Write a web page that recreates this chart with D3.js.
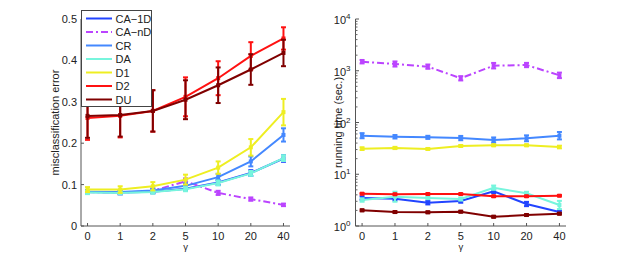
<!DOCTYPE html>
<html><head><meta charset="utf-8">
<script src="https://cdn.jsdelivr.net/npm/d3@7"></script>
<style>
body{margin:0;background:#fff;}
text{font-family:"Liberation Sans",Arial,Helvetica,sans-serif;fill:#222;}
</style></head>
<body>
<svg id="c" width="623" height="255"></svg>
<script>
const gammas = ["0","1","2","5","10","20","40"];
const names = ["CA\u22121D","CA\u2212nD","CR","DA","D1","D2","DU"];
const colors = ["#2244ff","#bb44ff","#4488ff","#77f5dd","#eeee22","#ff1111","#800000"];
const dashed = [false,true,false,false,false,false,false];

// misclassification error means
const errCA1D = [0.082,0.081,0.083,0.090,0.105,0.128,0.163];
const errCAnD = [0.082,0.080,0.085,0.108,0.080,0.065,0.051];
const errCR   = [0.083,0.082,0.086,0.097,0.118,0.156,0.220];
const errDA   = [0.081,0.080,0.082,0.089,0.104,0.127,0.164];
const errD1   = [0.088,0.088,0.096,0.112,0.141,0.190,0.275];
const errD2   = [0.261,0.266,0.278,0.312,0.357,0.411,0.453];
const errDU   = [0.266,0.268,0.278,0.305,0.340,0.378,0.418];
// misclassification error std
const sdCA1D = [0.004,0.004,0.004,0.005,0.006,0.007,0.008];
const sdCAnD = [0.004,0.004,0.005,0.007,0.005,0.004,0.003];
const sdCR   = [0.004,0.004,0.005,0.006,0.008,0.012,0.016];
const sdDA   = [0.004,0.004,0.004,0.005,0.006,0.006,0.007];
const sdD1   = [0.006,0.008,0.010,0.012,0.015,0.020,0.032];
const sdD2   = [0.053,0.052,0.050,0.047,0.041,0.033,0.027];
const sdDU   = [0.053,0.052,0.050,0.047,0.043,0.037,0.032];

// running time means (sec.)
const timeCA1D = [3.47,3.37,2.82,3.04,4.68,2.66,1.86];
const timeCAnD = [1496,1350,1200,715,1253,1290,815];
const timeCR   = [55.6,53.0,51.7,50.0,45.9,49.5,55.6];
const timeDA   = [3.18,3.68,3.47,3.32,5.50,4.28,2.55];
const timeD1   = [31.2,32.2,30.8,35.2,36.3,36.3,33.6];
const timeD2   = [4.21,4.10,4.15,4.15,3.75,3.75,3.85];
const timeDU   = [2.01,1.86,1.84,1.89,1.51,1.63,1.73];
// running time relative spread (fraction)
const rsdCA1D = [0.08,0.08,0.08,0.08,0.08,0.10,0.06];
const rsdCAnD = [0.08,0.12,0.10,0.10,0.13,0.10,0.13];
const rsdCR   = [0.12,0.08,0.07,0.10,0.12,0.14,0.18];
const rsdDA   = [0.08,0.25,0.05,0.07,0.10,0.07,0.20];
const rsdD1   = [0.06,0.05,0.04,0.04,0.04,0.04,0.06];
const rsdD2   = [0.03,0.03,0.03,0.03,0.03,0.03,0.03];
const rsdDU   = [0.04,0.04,0.04,0.04,0.04,0.04,0.04];

const errMeans = [errCA1D,errCAnD,errCR,errDA,errD1,errD2,errDU];
const errSds = [sdCA1D,sdCAnD,sdCR,sdDA,sdD1,sdD2,sdDU];
const timeMeans = [timeCA1D,timeCAnD,timeCR,timeDA,timeD1,timeD2,timeDU];
const timeRsds = [rsdCA1D,rsdCAnD,rsdCR,rsdDA,rsdD1,rsdD2,rsdDU];

const errTicks = [0,0.1,0.2,0.3,0.4,0.5];
const timeTicks = [1,10,100,1000,10000];

const svg = d3.select("#c");
const yTop = 19, yBot = 226;

function xScale(left,right){
  return d3.scaleLinear().domain([0.8,7.2]).range([left,right]);
}

function drawSeries(g, x, y, means, lo, hi){
  means.forEach((m,si)=>{
    const col = colors[si];
    const pts = m.map((v,i)=>[x(i+1), y(v)]);
    g.append("path").attr("d", d3.line()(pts)).attr("fill","none")
      .attr("stroke",col).attr("stroke-width",2)
      .attr("stroke-dasharray", dashed[si] ? "7,3,2,3" : null);
    m.forEach((v,i)=>{
      const cx = x(i+1), y1 = y(lo[si][i]), y2 = y(hi[si][i]);
      g.append("line").attr("x1",cx).attr("x2",cx).attr("y1",y1).attr("y2",y2)
        .attr("stroke",col).attr("stroke-width",2);
      [y1,y2].forEach(yy=>g.append("line").attr("x1",cx-2.5).attr("x2",cx+2.5)
        .attr("y1",yy).attr("y2",yy).attr("stroke",col).attr("stroke-width",2));
      g.append("rect").attr("x",cx-2).attr("y",y(v)-2).attr("width",4).attr("height",4)
        .attr("fill",col);
    });
  });
}

function drawXAxis(g, x, left, right){
  g.append("line").attr("x1",left).attr("x2",right).attr("y1",yBot).attr("y2",yBot)
    .attr("stroke","#555").attr("stroke-width",1);
  gammas.forEach((lab,i)=>{
    const cx = x(i+1);
    g.append("line").attr("x1",cx).attr("x2",cx).attr("y1",yBot).attr("y2",yBot-3)
      .attr("stroke","#555");
    g.append("text").attr("x",cx).attr("y",yBot+13.5).attr("text-anchor","middle")
      .attr("font-size",11).text(lab);
  });
  g.append("text").attr("x",(left+right)/2).attr("y",250).attr("text-anchor","middle")
    .attr("font-size",9.5).text("\u03b3");
}

// ---------- Left plot ----------
{
  const left = 81, right = 290;
  const x = xScale(left,right);
  const y = d3.scaleLinear().domain([0,0.5]).range([yBot,yTop]);
  const g = svg.append("g");
  drawSeries(g, x, y, errMeans,
    errMeans.map((m,si)=>m.map((v,i)=>v-errSds[si][i])),
    errMeans.map((m,si)=>m.map((v,i)=>v+errSds[si][i])));
  drawXAxis(g, x, left, right);
  g.append("line").attr("x1",left).attr("x2",left).attr("y1",yTop).attr("y2",yBot)
    .attr("stroke","#555");
  errTicks.forEach(t=>{
    g.append("line").attr("x1",left).attr("x2",left+3).attr("y1",y(t)).attr("y2",y(t)).attr("stroke","#555");
    g.append("text").attr("x",left-4).attr("y",y(t)+4).attr("text-anchor","end")
      .attr("font-size",11).text(d3.format("")(t));
  });
  g.append("text").attr("transform",`translate(59,${(yTop+yBot)/2}) rotate(-90)`)
    .attr("text-anchor","middle").attr("font-size",11).text("misclassification error");
  // legend
  const lg = svg.append("g");
  lg.append("rect").attr("x",81.5).attr("y",10.5).attr("width",70).attr("height",96)
    .attr("fill","#fff").attr("stroke","#444").attr("stroke-width",1);
  names.forEach((n,i)=>{
    const yy = 18.5 + i*13.5;
    lg.append("line").attr("x1",86).attr("x2",112).attr("y1",yy).attr("y2",yy)
      .attr("stroke",colors[i]).attr("stroke-width",2)
      .attr("stroke-dasharray", dashed[i] ? "7,3,2,3" : null);
    lg.append("text").attr("x",115.5).attr("y",yy+4).attr("font-size",11).text(n);
  });
}

// ---------- Right plot ----------
{
  const left = 355.5, right = 566;
  const x = xScale(left,right);
  const y = d3.scaleLog().domain([1,10000]).range([yBot,yTop]);
  const g = svg.append("g");
  drawSeries(g, x, y, timeMeans,
    timeMeans.map((m,si)=>m.map((v,i)=>v/(1+timeRsds[si][i]))),
    timeMeans.map((m,si)=>m.map((v,i)=>v*(1+timeRsds[si][i]))));
  drawXAxis(g, x, left, right);
  g.append("line").attr("x1",left).attr("x2",left).attr("y1",yTop).attr("y2",yBot)
    .attr("stroke","#555");
  timeTicks.forEach((t,k)=>{
    g.append("line").attr("x1",left).attr("x2",left+3.5).attr("y1",y(t)).attr("y2",y(t)).attr("stroke","#555");
    const tx = g.append("text").attr("x",left-5).attr("y",y(t)+5).attr("text-anchor","end")
      .attr("font-size",11);
    tx.append("tspan").text("10");
    tx.append("tspan").attr("dy",-5).attr("font-size",8).text(String(Math.round(Math.log10(t))));
    if (k < timeTicks.length-1){
      for (let m=2;m<=9;m++){
        g.append("line").attr("x1",left).attr("x2",left+2).attr("y1",y(t*m)).attr("y2",y(t*m))
          .attr("stroke","#666");
      }
    }
  });
  g.append("text").attr("transform",`translate(342,${(yTop+yBot)/2}) rotate(-90)`)
    .attr("text-anchor","middle").attr("font-size",11).text("running time (sec.)");
}
</script>
</body></html>
